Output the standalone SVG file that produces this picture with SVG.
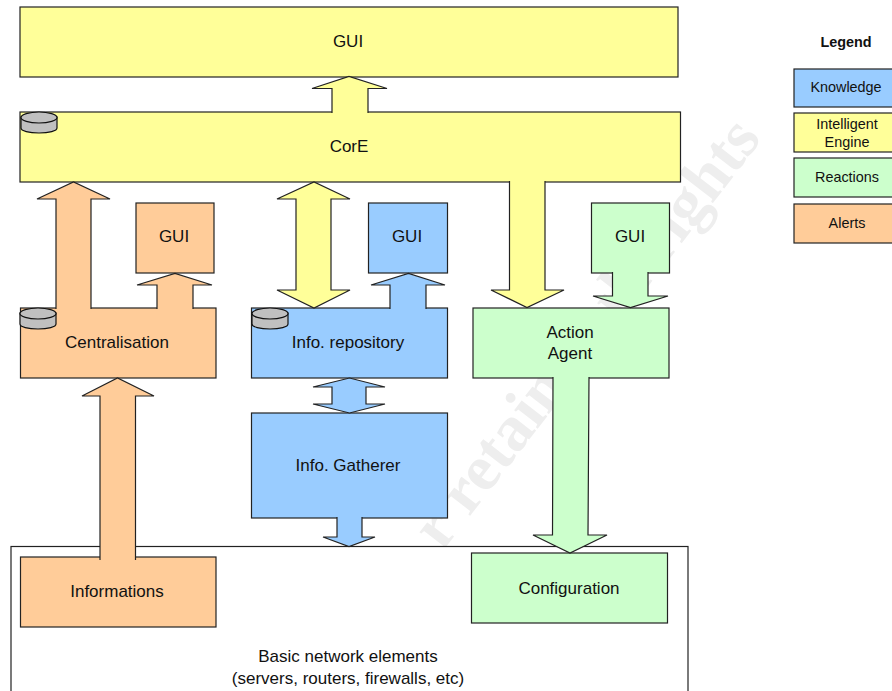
<svg xmlns="http://www.w3.org/2000/svg" width="892" height="691" viewBox="0 0 892 691">
<style>
text{font-family:"Liberation Sans",Arial,sans-serif;font-size:17px;fill:#111;text-anchor:middle}
.b{stroke:#222;stroke-width:1.2}
.y{fill:#ffff99}.o{fill:#ffcc99}.u{fill:#99ccff}.g{fill:#ccffcc}
.l{font-size:14.400px}
text.w{font-family:"Liberation Serif",serif;font-size:65px;font-weight:bold;fill:#eeeeee;text-anchor:start}
.c1{fill:#c0c0c0;stroke:#111;stroke-width:1.2}
</style>
<defs>
<g id="disk"><path class="c1" d="M0 5v11c0 3 8 5 18 5s18-2 18-5V5z"/><ellipse class="c1" cx="18" cy="5.500" rx="18" ry="5.500"/></g>
</defs>
<text class="w" transform="translate(442 552) rotate(-52.200)">r retains full rights</text>
<g id="basic"><rect x="11" y="546.500" width="677" height="150" fill="#fff" stroke="#222" stroke-width="1.200"/>
<text x="348" y="662">Basic network elements</text><text x="348" y="684">(servers, routers, firewalls, etc)</text></g>
<g id="gui-top"><rect class="b y" x="20" y="7" width="658" height="70"/><text x="348" y="47">GUI</text></g>
<g id="core"><rect class="b y" x="20" y="112" width="660.500" height="70"/><text x="349" y="152">CorE</text><use href="#disk" x="21" y="112"/></g>
<g id="gui-alerts"><rect class="b o" x="136" y="203" width="78" height="70"/><text x="174" y="242">GUI</text></g>
<g id="gui-knowledge"><rect class="b u" x="368.500" y="203" width="79" height="70"/><text x="407" y="242">GUI</text></g>
<g id="gui-reactions"><rect class="b g" x="591.500" y="203" width="78" height="70"/><text x="630" y="242">GUI</text></g>
<g id="centralisation"><rect class="b o" x="20.500" y="308" width="195.500" height="70"/><text x="117" y="348">Centralisation</text></g>
<g id="repository"><rect class="b u" x="251.500" y="308" width="196" height="70"/><text x="348" y="348">Info. repository</text></g>
<g id="agent"><rect class="b g" x="473" y="308" width="196" height="70"/><text x="570" y="338">Action</text><text x="570" y="359">Agent</text></g>
<g id="gatherer"><rect class="b u" x="251.500" y="413" width="196" height="105"/><text x="348" y="471">Info. Gatherer</text></g>
<g id="informations"><rect class="b o" x="20.500" y="557" width="195.500" height="70"/><text x="117" y="597">Informations</text></g>
<g id="configuration"><rect class="b g" x="471.500" y="553" width="196" height="70"/><text x="569" y="594">Configuration</text></g>
<g id="connectors">
<path class="b y" d="M368 113V88.500H387L349 76.500 312 88.500H332V113"/>
<path class="b o" d="M56 309V199H37L73.500 182 110 199H91V309"/>
<path class="b o" d="M157 309V285H137L175 273.500 212 285H193V309"/>
<path class="b o" d="M100 560V396H82L117.500 378 154 396H135.500V560"/>
<path class="b y" d="M296 199H277L314 182 350 199H331V290H350L314 308 277 290H296Z"/>
<path class="b u" d="M390 309V285H371L408.500 273.500 445 285H426V309"/>
<path class="b u" d="M332 387H313L349.500 378 385 387H366V404H385L349.500 413 313 404H332Z"/>
<path class="b u" d="M337 517V537H323L349 546.500 375 537H362V517"/>
<path class="b y" d="M509.500 181V290H491L527 307.500 564 290H545V181"/>
<path class="b g" d="M612.500 272V296H593L630.500 307.500 668 296H648V272"/>
<path class="b g" d="M589 377 588 535H607L570 553 533 535H552.500L553 377"/>
</g>
<use href="#disk" x="20" y="308"/>
<use href="#disk" x="252" y="308"/>
<g id="legend"><text x="846" y="47" style="font-size:14.400px;font-weight:bold">Legend</text>
<rect class="b u" x="794" y="69" width="100" height="38"/><text class="l" x="846" y="92">Knowledge</text>
<rect class="b y" x="794" y="113" width="100" height="39"/><text class="l" x="847" y="129">Intelligent</text><text class="l" x="847" y="147">Engine</text>
<rect class="b g" x="794" y="158" width="100" height="39"/><text class="l" x="847" y="182">Reactions</text>
<rect class="b o" x="794" y="204" width="100" height="39"/><text class="l" x="847" y="228">Alerts</text></g>
</svg>
